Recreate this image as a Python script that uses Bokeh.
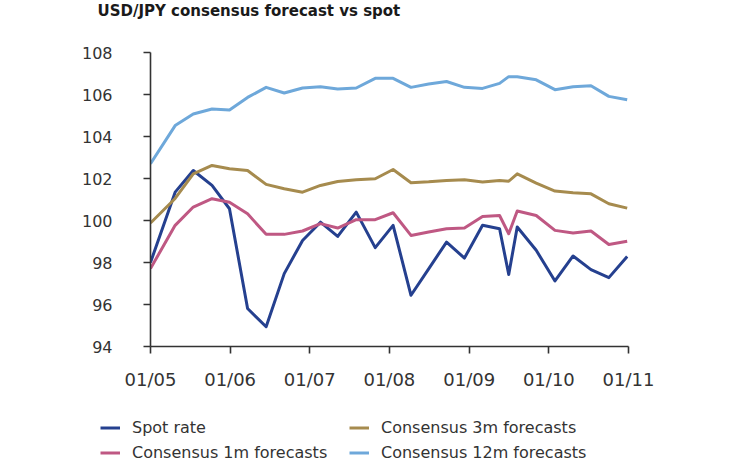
import pandas as pd
from bokeh.plotting import figure
from bokeh.layouts import column, row
from bokeh.models import (Range1d, FixedTicker, DatetimeTickFormatter, Label,
                          Legend, LegendItem)
from bokeh.embed import file_html
from bokeh.resources import INLINE

title_text = "USD/JPY consensus forecast vs spot"

dates = ["2005-01-01", "2005-04-24", "2005-07-16", "2005-10-10", "2005-12-29",
         "2006-03-22", "2006-06-15", "2006-09-06", "2006-11-29", "2007-02-19",
         "2007-05-09", "2007-08-02", "2007-10-28", "2008-01-18", "2008-04-09",
         "2008-06-29", "2008-09-19", "2008-12-10", "2009-03-03", "2009-05-20",
         "2009-07-01", "2009-08-09", "2009-11-04", "2010-01-29", "2010-04-22",
         "2010-07-13", "2010-10-03", "2010-12-26"]

spot_rate = [98.00, 101.35, 102.38, 101.67, 100.56, 95.81, 94.94, 97.47, 99.05, 99.92,
             99.24, 100.40, 98.71, 99.77, 96.44, 97.70, 98.97, 98.21, 99.77, 99.61,
             97.43, 99.69, 98.58, 97.12, 98.31, 97.66, 97.28, 98.29]

consensus_1m = [97.71, 99.77, 100.64, 101.04, 100.87, 100.32, 99.34, 99.34, 99.50, 99.85,
                99.64, 100.04, 100.04, 100.37, 99.29, 99.45, 99.61, 99.64, 100.19, 100.24,
                99.37, 100.45, 100.24, 99.53, 99.40, 99.50, 98.86, 99.01]

consensus_3m = [99.88, 101.05, 102.22, 102.62, 102.46, 102.38, 101.72, 101.51, 101.35, 101.67,
                101.86, 101.94, 101.99, 102.43, 101.80, 101.84, 101.90, 101.94, 101.83, 101.90,
                101.87, 102.22, 101.78, 101.40, 101.32, 101.27, 100.80, 100.59]

consensus_12m = [102.70, 104.52, 105.07, 105.31, 105.26, 105.86, 106.34, 106.07, 106.31, 106.37,
                 106.26, 106.31, 106.77, 106.77, 106.34, 106.50, 106.62, 106.34, 106.29, 106.53,
                 106.85, 106.85, 106.70, 106.23, 106.37, 106.42, 105.91, 105.75]

tick_dates = ["2005-01-01", "2006-01-01", "2007-01-01", "2008-01-01",
              "2009-01-01", "2010-01-01", "2011-01-01"]
y_ticks = [94, 96, 98, 100, 102, 104, 106, 108]

series_labels = ["Spot rate", "Consensus 1m forecasts", "Consensus 3m forecasts",
                 "Consensus 12m forecasts"]
series_colors = ["#25408f", "#bf5883", "#a68b4e", "#6ea8da"]
series_values = [spot_rate, consensus_1m, consensus_3m, consensus_12m]

def ms(s):
    return pd.Timestamp(s).value // 10**6

x = pd.to_datetime(dates)

FONT = "DejaVu Sans"
W = 750
H_TITLE, H_MAIN, H_LEG = 26, 379, 58


def bare_figure(h):
    f = figure(width=W, height=h, output_backend="svg", toolbar_location=None,
               x_axis_location=None, y_axis_location=None,
               x_range=Range1d(0, 1), y_range=Range1d(0, 1),
               min_border_left=0, min_border_right=0, min_border_top=0, min_border_bottom=0)
    f.outline_line_color = None
    f.grid.visible = False
    f.background_fill_color = "white"
    f.border_fill_color = "white"
    return f

# ---- title strip
pt = bare_figure(H_TITLE)
pt.add_layout(Label(x=97, y=16, x_units="screen", y_units="screen", text=title_text,
                    text_font=FONT, text_font_size="15px", text_font_style="bold",
                    text_color="#1a1a1a", text_baseline="alphabetic", text_align="left"))

# ---- main chart
p = figure(width=W, height=H_MAIN, output_backend="svg", toolbar_location=None,
           x_range=Range1d(ms(tick_dates[0]), ms(tick_dates[-1])),
           y_range=Range1d(y_ticks[0], y_ticks[-1]),
           x_axis_type="datetime",
           min_border_left=150, min_border_right=122,
           min_border_top=26, min_border_bottom=59)
p.outline_line_color = None
p.xgrid.visible = False
p.ygrid.visible = False
p.background_fill_color = "white"
p.border_fill_color = "white"

for vals, col in zip(series_values, series_colors):
    p.line(x, vals, line_color=col, line_width=3, line_join="round")

p.xaxis.ticker = FixedTicker(ticks=[ms(d) for d in tick_dates])
fmt = "%m/%y"
p.xaxis.formatter = DatetimeTickFormatter(years=fmt, months=fmt, days=fmt, hours=fmt,
                                          minutes=fmt, seconds=fmt, milliseconds=fmt,
                                          microseconds=fmt, hourmin=fmt, minsec=fmt)
p.yaxis.ticker = FixedTicker(ticks=y_ticks)

for ax in (p.xaxis, p.yaxis):
    ax.axis_line_color = "#333333"
    ax.axis_line_width = 1.6
    ax.major_tick_line_color = "#333333"
    ax.major_tick_line_width = 1.6
    ax.major_tick_out = 7
    ax.major_tick_in = 0
    ax.minor_tick_line_color = None
    ax.major_label_text_font = FONT
    ax.major_label_text_color = "#333333"

p.xaxis.major_label_text_font_size = "18px"
p.xaxis.major_label_standoff = 15
p.yaxis.major_label_text_font_size = "16px"
p.yaxis.major_label_standoff = 31

# ---- legend strip: key lines use the series (they fall outside this strip's ranges)
pl = bare_figure(H_LEG)
keys = [pl.line(x, vals, line_color=c, line_width=3)
        for vals, c in zip(series_values, series_colors)]

def make_legend(idx, vx):
    items = [LegendItem(label=series_labels[i], renderers=[keys[i]]) for i in idx]
    return Legend(items=items, location=(vx, -2), orientation="vertical",
                  padding=0, margin=0, spacing=0, glyph_width=20, glyph_height=25,
                  label_height=25, label_standoff=12,
                  label_text_font=FONT, label_text_font_size="16px",
                  label_text_color="#333333",
                  border_line_color=None, background_fill_alpha=0)

pl.add_layout(make_legend([0, 1], 100))
pl.add_layout(make_legend([2, 3], 349))

layout = column(row(pt, spacing=0), p, row(pl, spacing=0), spacing=0)
open("out.html", "w").write(file_html(layout, INLINE))
